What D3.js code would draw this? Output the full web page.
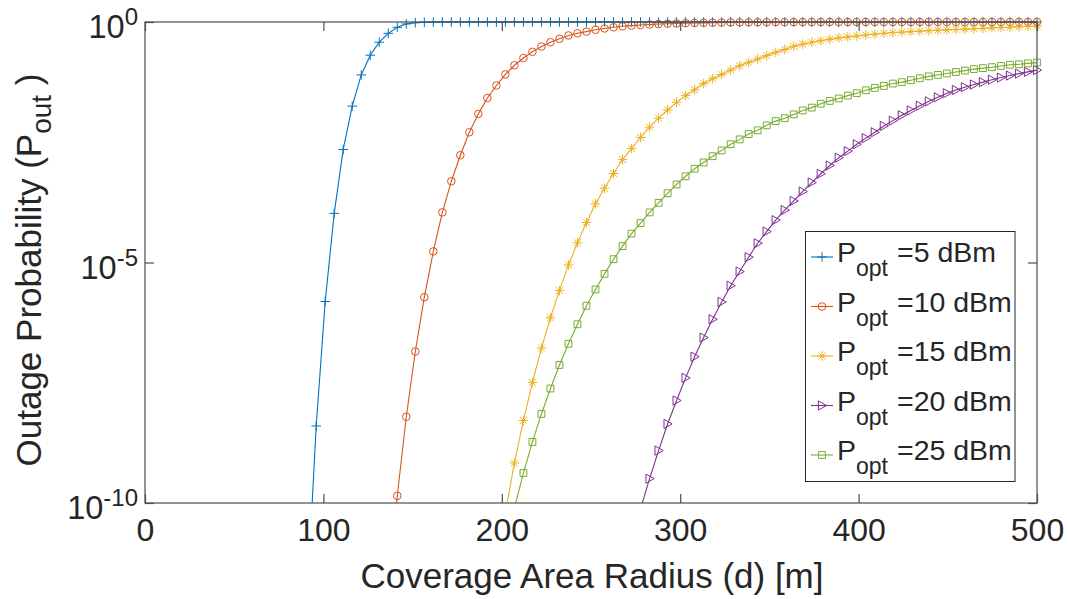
<!DOCTYPE html>
<html><head><meta charset="utf-8">
<script src="https://cdn.jsdelivr.net/npm/d3@7"></script>
<style>
body{margin:0;background:#fff;}
svg{display:block;}
text{font-family:"Liberation Sans",Arial,Helvetica,sans-serif;fill:#262626;}
</style>
</head><body>
<svg id="chart" width="1068" height="599"></svg>
<script>
// Coverage area radius d [m] (100 samples, 0..500)
const radius = [0,5.05,10.10,15.15,20.20,25.25,30.30,35.35,40.40,45.45,
  50.51,55.56,60.61,65.66,70.71,75.76,80.81,85.86,90.91,95.96,
  101.01,106.06,111.11,116.16,121.21,126.26,131.31,136.36,141.41,146.46,
  151.52,156.57,161.62,166.67,171.72,176.77,181.82,186.87,191.92,196.97,
  202.02,207.07,212.12,217.17,222.22,227.27,232.32,237.37,242.42,247.47,
  252.53,257.58,262.63,267.68,272.73,277.78,282.83,287.88,292.93,297.98,
  303.03,308.08,313.13,318.18,323.23,328.28,333.33,338.38,343.43,348.48,
  353.54,358.59,363.64,368.69,373.74,378.79,383.84,388.89,393.94,398.99,
  404.04,409.09,414.14,419.19,424.24,429.29,434.34,439.39,444.44,449.49,
  454.55,459.60,464.65,469.70,474.75,479.80,484.85,489.90,494.95,500];

// Outage probability per series (null = far below the 1e-10 floor, not drawn)
const p5dBm = [null,null,null,null,null,null,null,null,null,null,
  null,null,null,null,null,null,null,null,1e-12,4.0e-9,
  1.55e-6,1.05e-4,2.24e-3,0.0178,0.0794,0.204,0.380,0.582,0.776,0.912,
  0.966,0.988,0.996,0.999,1,1,1,1,1,1,
  1,1,1,1,1,1,1,1,1,1,
  1,1,1,1,1,1,1,1,1,1,
  1,1,1,1,1,1,1,1,1,1,
  1,1,1,1,1,1,1,1,1,1,
  1,1,1,1,1,1,1,1,1,1,
  1,1,1,1,1,1,1,1,1,1];
const p10dBm = [null,null,null,null,null,null,null,null,null,null,
  null,null,null,null,null,null,null,null,null,null,
  null,null,null,null,null,null,null,1.3e-12,1.41e-10,6.2e-9,
  1.41e-7,1.9e-6,1.7e-5,1.1e-4,4.9e-4,1.7e-3,5.1e-3,0.0123,0.0263,0.0479,
  0.0813,0.126,0.178,0.240,0.309,0.380,0.447,0.525,0.582,0.631,
  0.69,0.735,0.776,0.813,0.841,0.867,0.887,0.906,0.920,0.933,
  0.944,0.953,0.961,0.968,0.974,0.979,0.983,0.986,0.989,0.991,
  0.993,0.994,0.995,0.996,0.997,0.997,0.998,0.998,0.998,0.999,
  0.999,0.999,0.999,0.999,0.999,0.999,0.999,0.999,0.999,0.999,
  0.999,0.999,0.999,0.999,0.999,0.999,0.999,0.999,0.999,0.999];
const p15dBm = [null,null,null,null,null,null,null,null,null,null,
  null,null,null,null,null,null,null,null,null,null,
  null,null,null,null,null,null,null,null,null,null,
  null,null,null,null,null,null,null,null,null,5e-12,
  6.3e-11,6.8e-10,5.2e-9,3.2e-8,1.66e-7,7.1e-7,2.6e-6,8.9e-6,2.57e-5,6.8e-5,
  1.66e-4,3.5e-4,7.1e-4,1.38e-3,2.34e-3,3.98e-3,6.5e-3,0.0100,0.0148,0.0214,
  0.0295,0.0389,0.0525,0.066,0.081,0.100,0.123,0.145,0.170,0.200,
  0.234,0.269,0.313,0.347,0.380,0.407,0.437,0.468,0.490,0.513,
  0.537,0.562,0.582,0.603,0.617,0.631,0.646,0.661,0.676,0.687,
  0.698,0.710,0.724,0.738,0.752,0.766,0.780,0.794,0.809,0.822];
const p20dBm = [null,null,null,null,null,null,null,null,null,null,
  null,null,null,null,null,null,null,null,null,null,
  null,null,null,null,null,null,null,null,null,null,
  null,null,null,null,null,null,null,null,null,null,
  null,null,null,null,null,null,null,null,null,null,
  null,null,null,null,1.6e-11,7.6e-11,3.2e-10,1.23e-9,4.4e-9,1.35e-8,
  4.0e-8,1.10e-7,2.75e-7,6.6e-7,1.51e-6,3.3e-6,6.5e-6,1.29e-5,2.51e-5,4.4e-5,
  7.6e-5,1.23e-4,1.9e-4,3.0e-4,4.6e-4,7.0e-4,1.04e-3,1.51e-3,2.07e-3,2.88e-3,
  3.85e-3,5.1e-3,6.9e-3,8.9e-3,0.0115,0.0145,0.0182,0.0224,0.0272,0.0331,
  0.0385,0.0442,0.0501,0.0562,0.0631,0.070,0.077,0.0845,0.092,0.100];
const p25dBm = [null,null,null,null,null,null,null,null,null,null,
  null,null,null,null,null,null,null,null,null,null,
  null,null,null,null,null,null,null,null,null,null,
  null,null,null,null,null,null,null,null,null,null,
  1.1e-11,7.9e-11,4.2e-10,1.86e-9,7.1e-9,2.4e-8,7.4e-8,2.04e-7,5.2e-7,1.26e-6,
  2.75e-6,5.8e-6,1.17e-5,2.19e-5,3.98e-5,6.6e-5,1.10e-4,1.74e-4,2.75e-4,4.2e-4,
  6.2e-4,8.9e-4,1.20e-3,1.62e-3,2.14e-3,2.88e-3,3.63e-3,4.68e-3,5.6e-3,7.1e-3,
  8.7e-3,0.0100,0.0120,0.0145,0.0166,0.0200,0.0229,0.0257,0.0295,0.0331,
  0.0380,0.0427,0.0468,0.0525,0.0562,0.0617,0.0676,0.0741,0.0794,0.0851,
  0.0912,0.0977,0.105,0.110,0.115,0.122,0.129,0.132,0.138,0.143];

const seriesValues = [p5dBm, p10dBm, p15dBm, p20dBm, p25dBm];
const seriesLabels = ["=5 dBm","=10 dBm","=15 dBm","=20 dBm","=25 dBm"];
const seriesColors = ["#0072BD","#D95319","#EDB120","#7E2F8E","#77AC30"];
const seriesMarkers = ["plus","circle","asterisk","triangle","square"];

const xTicks = [0,100,200,300,400,500];
const yTicks = [1e-10,1e-5,1];
const yTickExponents = ["-10","-5","0"];
const xTitle = "Coverage Area Radius (d) [m]";

const svg = d3.select("#chart");
const L = 145, R = 1037, T = 22, B = 503;
const x = d3.scaleLinear().domain([0,500]).range([L,R]);
const y = d3.scaleLog().domain([1e-10,1]).range([B,T]);

function markerPath(t){
  switch(t){
    case "plus": return "M-4.8,0H4.8M0,-4.8V4.8";
    case "circle": return d3.arc()({innerRadius:0,outerRadius:3.8,startAngle:0,endAngle:2*Math.PI});
    case "asterisk": return "M-4.8,0H4.8M0,-4.8V4.8M-3.4,-3.4L3.4,3.4M-3.4,3.4L3.4,-3.4";
    case "triangle": return "M4.6,0L-3.6,-4.6L-3.6,4.6Z";
    case "square": return "M-3.4,-3.4H3.4V3.4H-3.4Z";
  }
}

svg.append("defs").append("clipPath").attr("id","clip")
  .append("rect").attr("x",L).attr("y",T-6).attr("width",R-L+6).attr("height",B-T+6);

svg.append("rect").attr("x",L).attr("y",T).attr("width",R-L).attr("height",B-T).attr("fill","#fff");

const line = d3.line().defined(d=>d.p!=null).x(d=>x(d.r)).y(d=>y(d.p));
seriesValues.forEach((vals,i)=>{
  const data = radius.map((r,k)=>({r:r,p:vals[k]}));
  const g = svg.append("g");
  g.append("path").datum(data).attr("clip-path","url(#clip)")
    .attr("d",line).attr("fill","none").attr("stroke",seriesColors[i]).attr("stroke-width",1.1);
  g.selectAll("path.m").data(data.filter(d=>d.p!=null && d.p>=1e-10)).enter()
    .append("path").attr("class","m")
    .attr("transform",d=>`translate(${x(d.r)},${y(d.p)})`)
    .attr("d",markerPath(seriesMarkers[i]))
    .attr("fill","none").attr("stroke",seriesColors[i]).attr("stroke-width",1);
});

const axisColor = "#4d4d4d";
svg.append("rect").attr("x",L).attr("y",T).attr("width",R-L).attr("height",B-T)
  .attr("fill","none").attr("stroke",axisColor).attr("stroke-width",1.2);

const xb = svg.append("g").attr("transform",`translate(0,${B})`)
  .call(d3.axisBottom(x).tickValues(xTicks).tickSizeInner(-9).tickSizeOuter(0).tickPadding(0));
const xt = svg.append("g").attr("transform",`translate(0,${T})`)
  .call(d3.axisTop(x).tickValues(xTicks).tickSizeInner(-9).tickSizeOuter(0).tickFormat(""));
const yl = svg.append("g").attr("transform",`translate(${L},0)`)
  .call(d3.axisLeft(y).tickValues(yTicks).tickSizeInner(-9).tickSizeOuter(0).tickFormat(""));
const yr = svg.append("g").attr("transform",`translate(${R},0)`)
  .call(d3.axisRight(y).tickValues(yTicks).tickSizeInner(-9).tickSizeOuter(0).tickFormat(""));
[xb,xt,yl,yr].forEach(a=>{
  a.select(".domain").remove();
  a.selectAll(".tick line").attr("stroke",axisColor).attr("stroke-width",1.2);
});
xb.selectAll(".tick text").attr("dy",null).attr("y",38)
  .attr("font-size",32).attr("fill","#262626").style("font-family",'"Liberation Sans",Arial,sans-serif');

yTicks.forEach((v,i)=>{
  const t = svg.append("text").attr("x",138).attr("y",y(v)+16)
    .attr("text-anchor","end").attr("font-size",32.5);
  t.append("tspan").text("10");
  t.append("tspan").attr("dy",-13).attr("font-size",24).text(yTickExponents[i]);
});

svg.append("text").attr("x",(L+R)/2+1).attr("y",588).attr("text-anchor","middle")
  .attr("font-size",35).text(xTitle);
const ylab = svg.append("text").attr("transform","translate(41,270) rotate(-90)")
  .attr("text-anchor","middle").attr("font-size",35);
ylab.append("tspan").text("Outage Probability (P");
ylab.append("tspan").attr("dy",10).attr("font-size",28).text("out");
ylab.append("tspan").attr("dy",-10).text(" )");

const lg = svg.append("g");
lg.append("rect").attr("x",805.5).attr("y",231.5).attr("width",209.5).attr("height",250)
  .attr("fill","#fff").attr("stroke","#262626").attr("stroke-width",1);
seriesLabels.forEach((lab,i)=>{
  const cy = 257 + i*49.5;
  lg.append("line").attr("x1",811).attr("x2",833).attr("y1",cy).attr("y2",cy)
    .attr("stroke",seriesColors[i]).attr("stroke-width",1.1);
  lg.append("path").attr("transform",`translate(822,${cy})`).attr("d",markerPath(seriesMarkers[i]))
    .attr("fill","none").attr("stroke",seriesColors[i]).attr("stroke-width",1);
  const t = lg.append("text").attr("x",837).attr("y",cy+5).attr("font-size",28.5);
  t.append("tspan").text("P");
  t.append("tspan").attr("dy",14).attr("font-size",23).text("opt");
  t.append("tspan").attr("dy",-14).attr("x",897).text(lab);
});
</script>
</body></html>
